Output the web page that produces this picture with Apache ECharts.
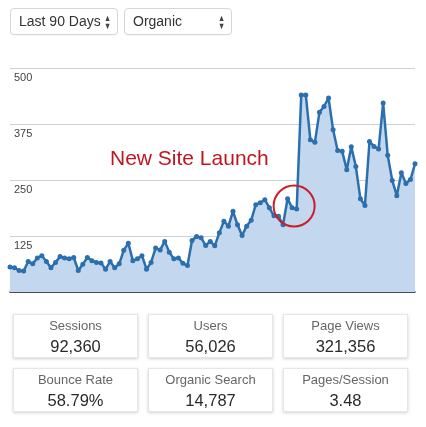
<!DOCTYPE html>
<html>
<head>
<meta charset="utf-8">
<script src="https://cdn.jsdelivr.net/npm/echarts@6/dist/echarts.min.js"></script>
<style>
  html, body { margin:0; padding:0; background:#fff; }
  body { width:426px; height:427px; position:relative; overflow:hidden; font-family:"Liberation Sans", Arial, Helvetica, sans-serif; }
  #chart { position:absolute; left:0; top:0; width:426px; height:427px; }
  .sel { position:absolute; top:8px; height:27px; border:1px solid #d6d6d6; border-radius:4px; background:#fff; box-sizing:border-box;
         font-size:14px; color:#333; line-height:25px; padding-left:8px; box-shadow:0 1px 1px rgba(0,0,0,0.04); }
  .sel .arr { position:absolute; right:5px; font-size:9px; line-height:8px; top:5px; color:#444; transform:scaleX(0.8); }
  .box { position:absolute; width:125px; height:44px; background:#fff; box-sizing:border-box; border:1px solid #e6e6e6;
         box-shadow:0 1px 3px rgba(0,0,0,0.18); text-align:center; }
  .box .lab { position:absolute; left:0; right:0; top:3px; font-size:13px; color:#666; line-height:16px; }
  .box .val { position:absolute; left:0; right:0; top:22px; font-size:16.5px; color:#2a2a2a; line-height:19px; }
</style>
</head>
<body>
<div id="chart"></div>
<div class="sel" style="left:10px;width:108px;">Last 90 Days<span class="arr">▲<br>▼</span></div>
<div class="sel" style="left:124px;width:108px;">Organic<span class="arr">▲<br>▼</span></div>
<div id="stats"></div>
<script>
// Daily organic sessions (last 90 days)
var days = [];
var sessions = [56,54,48,47,68,63,76,81,68,54,
                66,79,76,74,77,48,62,77,70,66,
                65,51,68,54,63,93,109,70,74,81,
                51,66,98,94,113,89,74,76,64,59,
                115,124,121,104,113,103,132,158,147,180,
                150,126,147,160,195,199,206,188,170,169,
                150,208,188,185,440,440,340,334,401,414,
                433,362,316,314,273,324,280,208,193,336,
                325,319,422,305,249,215,266,242,251,286];
for (var i = 0; i < sessions.length; i++) days.push('D' + (i + 1));
var yTicks = [0, 125, 250, 375, 500];
var statLabels = ['Sessions','Users','Page Views','Bounce Rate','Organic Search','Pages/Session'];
var statValues = ['92,360','56,026','321,356','58.79%','14,787','3.48'];
var annotationText = 'New Site Launch';
var launchIndex = 62, launchValue = 192;

var chart = echarts.init(document.getElementById('chart'));
chart.setOption({
  animation: false,
  grid: { left: 10, right: 11, top: 68, bottom: 135, containLabel: false },
  xAxis: {
    type: 'category', data: days, boundaryGap: false,
    axisLine: { show: true, lineStyle: { color: '#222', width: 1.5 } },
    axisTick: { show: false }, axisLabel: { show: false }, splitLine: { show: false }
  },
  yAxis: {
    type: 'value', min: yTicks[0], max: yTicks[yTicks.length - 1], interval: 125,
    axisLine: { show: false }, axisTick: { show: false },
    splitLine: { lineStyle: { color: '#d0d0d0', width: 1 } },
    axisLabel: {
      inside: true, margin: 4, verticalAlign: 'top', padding: [4, 0, 0, 0],
      color: '#444', fontSize: 11, fontFamily: 'Liberation Sans, Arial',
      formatter: function (v) { return v === 0 ? '' : String(v); }
    }
  },
  graphic: [
    { type: 'text', left: 110, top: 149, z: 10,
      style: { text: annotationText, fill: '#c0161f', fontSize: 21, fontFamily: 'Liberation Sans, Arial' } }
  ],
  series: [{
    type: 'line', data: sessions,
    symbol: 'circle', symbolSize: 5, showSymbol: true, showAllSymbol: true,
    lineStyle: { color: '#2b6fae', width: 2.5 },
    itemStyle: { color: '#2b6fae' },
    areaStyle: { color: '#c3d8ee', opacity: 1 },
    markPoint: {
      silent: true, animation: false,
      symbol: 'circle', symbolSize: 41, symbolOffset: [2, 0],
      itemStyle: { color: 'rgba(0,0,0,0)', borderColor: '#c8202a', borderWidth: 2 },
      label: { show: false },
      data: [{ coord: [launchIndex, launchValue] }]
    }
  }]
});

var stats = document.getElementById('stats');
var lefts = [13, 148, 283], tops = [314, 368];
for (var k = 0; k < statLabels.length; k++) {
  var d = document.createElement('div');
  d.className = 'box';
  d.style.left = lefts[k % 3] + 'px';
  d.style.top = tops[Math.floor(k / 3)] + 'px';
  d.innerHTML = '<div class="lab">' + statLabels[k] + '</div><div class="val">' + statValues[k] + '</div>';
  stats.appendChild(d);
}
</script>
</body>
</html>
